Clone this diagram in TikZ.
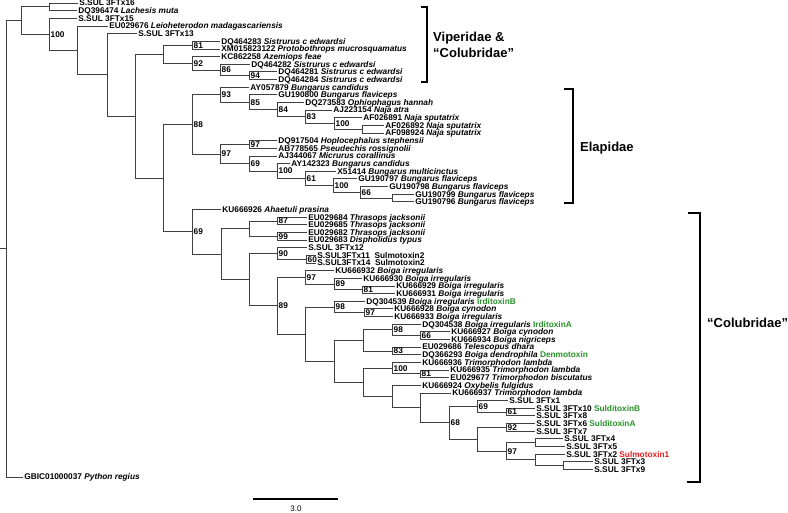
\documentclass[tikz,border=0pt]{standalone}
\usepackage{fontspec}
\setmainfont{Liberation Sans}
\definecolor{tgreen}{RGB}{40,145,40}
\definecolor{tred}{RGB}{235,30,30}
\newcommand\spn[1]{\textit{#1}}
\newcommand\gtx[1]{\textcolor{tgreen}{#1}}
\newcommand\rtx[1]{\textcolor{tred}{#1}}
\newcommand\lf[4]{\node[leaf] (#1) at (#2,#3) {#4};}
\newcommand\ed[3]{\draw[br] (#1) |- (#2) (#1) |- (#3);}
\newcommand\bsl[2]{\node[bs] (b#1) at (#1) {#2};}
\tikzset{
 br/.style={draw=black!75, line width=0.7pt},
 leaf/.style={anchor=west, inner xsep=1.2pt, inner ysep=0pt, text height=5.9pt, text depth=0pt, font=\fontsize{8.3}{8.3}\selectfont\bfseries},
 bs/.style={anchor=west, inner xsep=1.5pt, inner ysep=0pt, text height=5.9pt, text depth=0pt, font=\fontsize{8.3}{8.3}\selectfont\bfseries},
 cladelab/.style={anchor=west, inner sep=0pt, font=\fontsize{13}{16}\selectfont\bfseries, align=left},
 bracket/.style={line width=2pt, black}
}
\begin{document}
\begin{tikzpicture}[x=1pt,y=-1pt]
\useasboundingbox (0,0) rectangle (788,512);
\begin{scope}[x=1pt, y=-7.645pt, yshift=-3pt]
% internal nodes
\coordinate (root) at (6,32.15);
\coordinate (rootstub) at (0,32.15);
\coordinate (A) at (21,2.2995);
\coordinate (N1) at (49,0.5);
\coordinate (B) at (49,4.099);
\coordinate (C) at (77,6.197);
\coordinate (D) at (107,9.395);
\coordinate (E) at (135,14.79);
\coordinate (V) at (163,6.6875);
\coordinate (n81) at (192,5.5);
\coordinate (n92) at (192,7.875);
\coordinate (n86) at (220,8.75);
\coordinate (n94) at (249,9.5);
\coordinate (F) at (163,22.89);
\coordinate (n88) at (192,15.863);
\coordinate (n93) at (220,11.984);
\coordinate (n85) at (249,12.969);
\coordinate (n84) at (277,13.9375);
\coordinate (n83) at (305,14.875);
\coordinate (nHa) at (334,15.75);
\coordinate (nAF) at (362,16.5);
\coordinate (n97b) at (220,19.742);
\coordinate (n97a) at (249,18.5);
\coordinate (n69e) at (249,20.984);
\coordinate (nHb) at (277,21.969);
\coordinate (n61) at (305,22.9375);
\coordinate (nHc) at (333,23.875);
\coordinate (n66) at (360,24.75);
\coordinate (nGU) at (392,25.5);
\coordinate (n69c) at (192,29.92);
\coordinate (X) at (221,32.835);
\coordinate (T) at (249,29.5);
\coordinate (n87) at (277,28.5);
\coordinate (n99) at (277,30.5);
\coordinate (W) at (249,36.17);
\coordinate (n90) at (277,32.75);
\coordinate (n60) at (306,33.5);
\coordinate (n89a) at (277,39.59);
\coordinate (n97d) at (305,35.875);
\coordinate (n89b) at (334,36.75);
\coordinate (n81b) at (362,37.5);
\coordinate (G) at (305,43.31);
\coordinate (n98) at (334,39.75);
\coordinate (n97c) at (364,40.5);
\coordinate (H) at (334,46.869);
\coordinate (I) at (363,44.125);
\coordinate (n98b) at (392,42.75);
\coordinate (n66b) at (420,43.5);
\coordinate (n83b) at (392,45.5);
\coordinate (J) at (363,49.613);
\coordinate (nHd) at (392,47.75);
\coordinate (n81c) at (420,48.5);
\coordinate (K) at (392,51.477);
\coordinate (L) at (420,52.953);
\coordinate (n68) at (449,54.906);
\coordinate (n69f) at (477,52.75);
\coordinate (n61b) at (506,53.5);
\coordinate (M) at (477,57.0625);
\coordinate (n92b) at (506,55.5);
\coordinate (n97e) at (506,58.625);
\coordinate (N) at (535,57.5);
\coordinate (O) at (535,59.75);
\coordinate (P) at (563,60.5);
% leaves
\lf{l0}{78}{0}{S.SUL 3FTx16}
\lf{l1}{77}{1}{DQ396474 \spn{Lachesis muta}}
\lf{l2}{77}{2}{S.SUL 3FTx15}
\lf{l3}{108}{3}{EU029676 \spn{Leioheterodon madagascariensis}}
\lf{l4}{137}{4}{S.SUL 3FTx13}
\lf{l5}{220}{5}{DQ464283 \spn{Sistrurus c edwardsi}}
\lf{l6}{220}{6}{XM015823122 \spn{Protobothrops mucrosquamatus}}
\lf{l7}{220}{7}{KC862258 \spn{Azemiops feae}}
\lf{l8}{250}{8}{DQ464282 \spn{Sistrurus c edwardsi}}
\lf{l9}{277}{9}{DQ464281 \spn{Sistrurus c edwardsi}}
\lf{l10}{277}{10}{DQ464284 \spn{Sistrurus c edwardsi}}
\lf{l11}{249}{11}{AY057879 \spn{Bungarus candidus}}
\lf{l12}{277}{12}{GU190800 \spn{Bungarus flaviceps}}
\lf{l13}{304}{13}{DQ273583 \spn{Ophiophagus hannah}}
\lf{l14}{332}{14}{AJ223154 \spn{Naja atra}}
\lf{l15}{362}{15}{AF026891 \spn{Naja sputatrix}}
\lf{l16}{384}{16}{AF026892 \spn{Naja sputatrix}}
\lf{l17}{384}{17}{AF098924 \spn{Naja sputatrix}}
\lf{l18}{277}{18}{DQ917504 \spn{Hoplocephalus stephensii}}
\lf{l19}{277}{19}{AB778565 \spn{Pseudechis rossignolii}}
\lf{l20}{277}{20}{AJ344067 \spn{Micrurus corallinus}}
\lf{l21}{290}{21}{AY142323 \spn{Bungarus candidus}}
\lf{l22}{336}{22}{X51414 \spn{Bungarus multicinctus}}
\lf{l23}{357}{23}{GU190797 \spn{Bungarus flaviceps}}
\lf{l24}{388}{24}{GU190798 \spn{Bungarus flaviceps}}
\lf{l25}{414}{25}{GU190799 \spn{Bungarus flaviceps}}
\lf{l26}{414}{26}{GU190796 \spn{Bungarus flaviceps}}
\lf{l27}{221}{27}{KU666926 \spn{Ahaetuli prasina}}
\lf{l28}{307}{28}{EU029684 \spn{Thrasops jacksonii}}
\lf{l29}{307}{29}{EU029685 \spn{Thrasops jacksonii}}
\lf{l30}{307}{30}{EU029682 \spn{Thrasops jacksonii}}
\lf{l31}{307}{31}{EU029683 \spn{Dispholidus typus}}
\lf{l32}{307}{32}{S.SUL 3FTx12}
\lf{l33}{316}{33}{S.SUL3FTx11\ \ Sulmotoxin2}
\lf{l34}{316}{34}{S.SUL3FTx14\ \ Sulmotoxin2}
\lf{l35}{334}{35}{KU666932 \spn{Boiga irregularis}}
\lf{l36}{362}{36}{KU666930 \spn{Boiga irregularis}}
\lf{l37}{395}{37}{KU666929 \spn{Boiga irregularis}}
\lf{l38}{395}{38}{KU666931 \spn{Boiga irregularis}}
\lf{l39}{365}{39}{DQ304539 \spn{Boiga irregularis} \gtx{IrditoxinB}}
\lf{l40}{393}{40}{KU666928 \spn{Boiga cynodon}}
\lf{l41}{393}{41}{KU666933 \spn{Boiga irregularis}}
\lf{l42}{421}{42}{DQ304538 \spn{Boiga irregularis} \gtx{IrditoxinA}}
\lf{l43}{450}{43}{KU666927 \spn{Boiga cynodon}}
\lf{l44}{450}{44}{KU666934 \spn{Boiga nigriceps}}
\lf{l45}{421}{45}{EU029686 \spn{Telescopus dhara}}
\lf{l46}{421}{46}{DQ366293 \spn{Boiga dendrophila} \gtx{Denmotoxin}}
\lf{l47}{421}{47}{KU666936 \spn{Trimorphodon lambda}}
\lf{l48}{449}{48}{KU666935 \spn{Trimorphodon lambda}}
\lf{l49}{449}{49}{EU029677 \spn{Trimorphodon biscutatus}}
\lf{l50}{421}{50}{KU666924 \spn{Oxybelis fulgidus}}
\lf{l51}{451}{51}{KU666937 \spn{Trimorphodon lambda}}
\lf{l52}{508}{52}{S.SUL 3FTx1}
\lf{l53}{535}{53}{S.SUL 3FTx10 \gtx{SulditoxinB}}
\lf{l54}{535}{54}{S.SUL 3FTx8}
\lf{l55}{535}{55}{S.SUL 3FTx6 \gtx{SulditoxinA}}
\lf{l56}{535}{56}{S.SUL 3FTx7}
\lf{l57}{563}{57}{S.SUL 3FTx4}
\lf{l58}{565}{58}{S.SUL 3FTx5}
\lf{l59}{565}{59}{S.SUL 3FTx2 \rtx{Sulmotoxin1}}
\lf{l60}{593}{60}{S.SUL 3FTx3}
\lf{l61}{593}{61}{S.SUL 3FTx9}
\lf{l62}{23}{62}{GBIC01000037 \spn{Python regius}}
% edges
\draw[br] (rootstub) -- (root);
\ed{root}{A}{l62.west}
\ed{A}{N1}{B}
\ed{N1}{l0.west}{l1.west}
\ed{B}{l2.west}{C}
\ed{C}{l3.west}{D}
\ed{D}{l4.west}{E}
\ed{E}{V}{F}
\ed{V}{n81}{n92}
\ed{n81}{l5.west}{l6.west}
\ed{n92}{l7.west}{n86}
\ed{n86}{l8.west}{n94}
\ed{n94}{l9.west}{l10.west}
\ed{F}{n88}{n69c}
\ed{n88}{n93}{n97b}
\ed{n93}{l11.west}{n85}
\ed{n85}{l12.west}{n84}
\ed{n84}{l13.west}{n83}
\ed{n83}{l14.west}{nHa}
\ed{nHa}{l15.west}{nAF}
\ed{nAF}{l16.west}{l17.west}
\ed{n97b}{n97a}{n69e}
\ed{n97a}{l18.west}{l19.west}
\ed{n69e}{l20.west}{nHb}
\ed{nHb}{l21.west}{n61}
\ed{n61}{l22.west}{nHc}
\ed{nHc}{l23.west}{n66}
\ed{n66}{l24.west}{nGU}
\ed{nGU}{l25.west}{l26.west}
\ed{n69c}{l27.west}{X}
\ed{X}{T}{W}
\ed{T}{n87}{n99}
\ed{n87}{l28.west}{l29.west}
\ed{n99}{l30.west}{l31.west}
\ed{W}{n90}{n89a}
\ed{n90}{l32.west}{n60}
\ed{n60}{l33.west}{l34.west}
\ed{n89a}{n97d}{G}
\ed{n97d}{l35.west}{n89b}
\ed{n89b}{l36.west}{n81b}
\ed{n81b}{l37.west}{l38.west}
\ed{G}{n98}{H}
\ed{n98}{l39.west}{n97c}
\ed{n97c}{l40.west}{l41.west}
\ed{H}{I}{J}
\ed{I}{n98b}{n83b}
\ed{n98b}{l42.west}{n66b}
\ed{n66b}{l43.west}{l44.west}
\ed{n83b}{l45.west}{l46.west}
\ed{J}{nHd}{K}
\ed{nHd}{l47.west}{n81c}
\ed{n81c}{l48.west}{l49.west}
\ed{K}{l50.west}{L}
\ed{L}{l51.west}{n68}
\ed{n68}{n69f}{M}
\ed{n69f}{l52.west}{n61b}
\ed{n61b}{l53.west}{l54.west}
\ed{M}{n92b}{n97e}
\ed{n92b}{l55.west}{l56.west}
\ed{n97e}{N}{O}
\ed{N}{l57.west}{l58.west}
\ed{O}{l59.west}{P}
\ed{P}{l60.west}{l61.west}
% bootstrap values
\bsl{B}{100}
\bsl{n81}{81}
\bsl{n92}{92}
\bsl{n86}{86}
\bsl{n94}{94}
\bsl{n93}{93}
\bsl{n85}{85}
\bsl{n84}{84}
\bsl{n83}{83}
\bsl{nHa}{100}
\bsl{n88}{88}
\bsl{n97a}{97}
\bsl{n97b}{97}
\bsl{n69e}{69}
\bsl{nHb}{100}
\bsl{n61}{61}
\bsl{nHc}{100}
\bsl{n66}{66}
\bsl{n69c}{69}
\bsl{n87}{87}
\bsl{n99}{99}
\bsl{n90}{90}
\bsl{n60}{60}
\bsl{n97d}{97}
\bsl{n89b}{89}
\bsl{n81b}{81}
\bsl{n89a}{89}
\bsl{n98}{98}
\bsl{n97c}{97}
\bsl{n98b}{98}
\bsl{n66b}{66}
\bsl{n83b}{83}
\bsl{nHd}{100}
\bsl{n81c}{81}
\bsl{n69f}{69}
\bsl{n61b}{61}
\bsl{n92b}{92}
\bsl{n68}{68}
\bsl{n97e}{97}
\end{scope}
% clade brackets
\draw[bracket] (421,7) -- (427,7) -- (427,82) -- (421,82);
\node[cladelab] (viplab) at (433,45) {Viperidae \&\\``Colubridae''};
\draw[bracket] (564,89) -- (573,89) -- (573,203) -- (564,203);
\node[cladelab] (elalab) at (580,148) {Elapidae};
\draw[bracket] (688,213) -- (700,213) -- (700,482) -- (687,482);
\node[cladelab] (collab) at (707,323) {``Colubridae''};
% scale bar
\coordinate (sb1) at (253,499);
\coordinate (sb2) at (338,499);
\draw[line width=1.2pt, black] (sb1) -- (sb2);
\node[font=\fontsize{8}{8}\selectfont, inner sep=0pt] (sblab) at (296,509) {3.0};
\end{tikzpicture}
\end{document}
